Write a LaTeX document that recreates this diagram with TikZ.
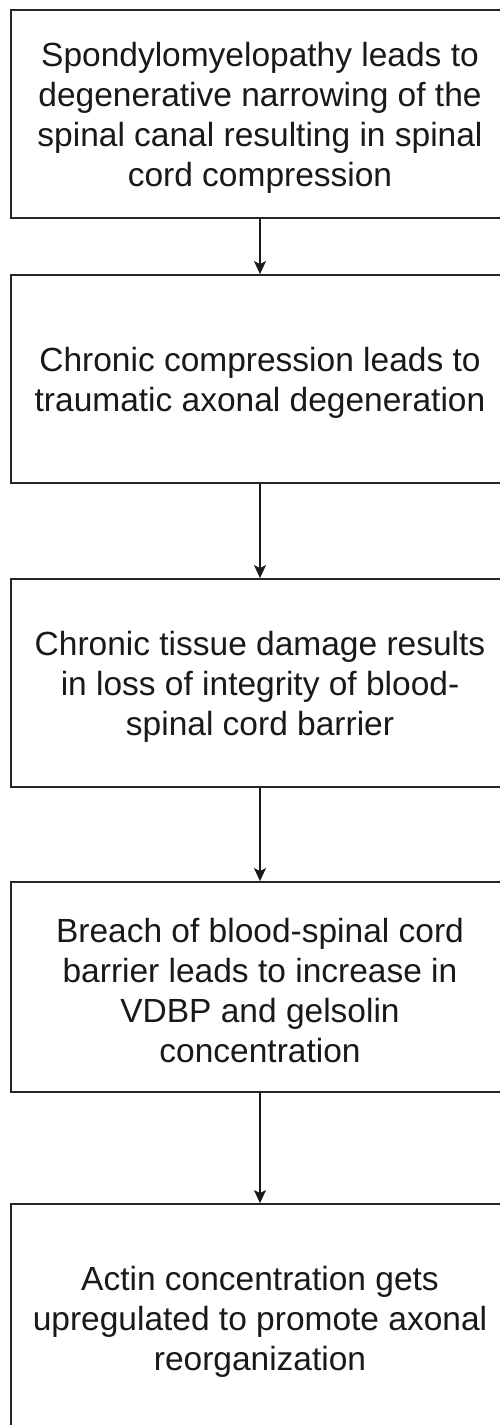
\documentclass[tikz,border=0pt]{standalone}
\usepackage{fontspec}
\setmainfont{Liberation Sans}
\usetikzlibrary{arrows.meta}
\begin{document}
\begin{tikzpicture}[x=1pt,y=-1pt,
  flowbox/.style={draw=black!85, line width=1.8pt, fill=white, inner sep=0pt,
    minimum width=498pt},
  flowtext/.style={inner sep=0pt, align=center, text=black!90,
    font=\fontsize{33.5}{40}\selectfont},
  arr/.style={draw=black!90, line width=1.2pt, -{Stealth[length=13pt,width=12pt,inset=3pt]}}]
\clip (0,0) rectangle (500,1425);
\fill[white] (0,0) rectangle (500,1425);
\node[flowbox, minimum height=208pt] (b1) at (260,114) {};
\node[flowbox, minimum height=208pt] (b2) at (260,379) {};
\node[flowbox, minimum height=208pt] (b3) at (260,683) {};
\node[flowbox, minimum height=210pt] (b4) at (260,987) {};
\node[flowbox, minimum height=228pt] (b5) at (260,1318) {};
\node[flowtext] (t1) at ([yshift=-4pt]b1.center)
  {Spondylomyelopathy leads to\\degenerative narrowing of the\\spinal canal resulting in spinal\\cord compression};
\node[flowtext] (t2) at ([yshift=-4pt]b2.center)
  {Chronic compression leads to\\traumatic axonal degeneration};
\node[flowtext] (t3) at ([yshift=-4pt]b3.center)
  {Chronic tissue damage results\\in loss of integrity of blood-\\spinal cord barrier};
\node[flowtext] (t4) at ([yshift=-4pt]b4.center)
  {Breach of blood-spinal cord\\barrier leads to increase in\\VDBP and gelsolin\\concentration};
\node[flowtext] (t5) at ([yshift=-4pt]b5.center)
  {Actin concentration gets\\upregulated to promote axonal\\reorganization};
\draw[arr] (b1.south) -- (b2.north);
\draw[arr] (b2.south) -- (b3.north);
\draw[arr] (b3.south) -- (b4.north);
\draw[arr] (b4.south) -- (b5.north);
\end{tikzpicture}
\end{document}
